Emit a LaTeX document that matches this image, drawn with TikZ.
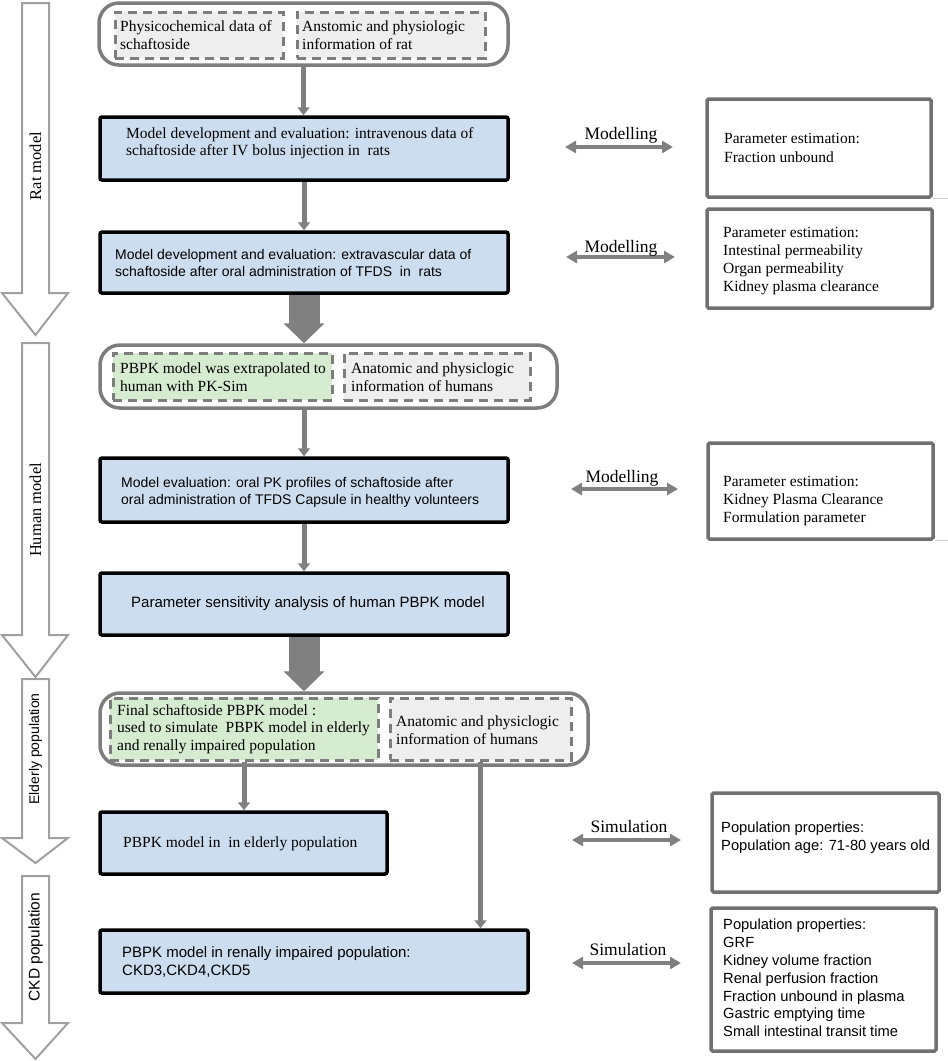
\documentclass[tikz,border=0pt]{standalone}
\usepackage{fontspec}
\setmainfont{Liberation Serif}
\setsansfont{Liberation Sans}
\usetikzlibrary{arrows.meta}
\definecolor{boxblue}{RGB}{205,221,240}
\definecolor{boxgreen}{RGB}{214,236,208}
\definecolor{boxgray}{RGB}{238,238,238}
\definecolor{conngray}{RGB}{128,128,128}
\definecolor{grpgray}{RGB}{125,125,125}
\definecolor{pargray}{RGB}{112,112,112}
\definecolor{hgray}{RGB}{160,160,160}
\definecolor{faint}{RGB}{205,205,205}
\newcommand\mkbox[6]{\node[#2, minimum width={(#4-#3)*1pt}, minimum height={(#6-#5)*1pt}] (#1) at ({(#3+#4)/2},{(#5+#6)/2}) {};}
\begin{document}
\begin{tikzpicture}[x=1pt,y=-1pt,
  bluebox/.style={draw=black, line width=3.5pt, fill=boxblue, rounded corners=2pt, inner sep=0pt},
  grpbox/.style={draw=grpgray, line width=3.5pt, rounded corners=20pt, fill=white, inner sep=0pt},
  dashbox/.style={draw=grpgray, line width=3pt, dash pattern=on 9pt off 6pt, inner sep=0pt},
  graydash/.style={dashbox, fill=boxgray},
  greendash/.style={dashbox, fill=boxgreen},
  parbox/.style={draw=pargray, line width=3.5pt, rounded corners=1.5pt, fill=white, inner sep=0pt},
  txs/.style={font=\fontsize{15.5}{17.5}\selectfont, align=left, inner sep=0pt, anchor=west},
  txp/.style={font=\fontsize{15.5}{18.2}\selectfont, align=left, inner sep=0pt, anchor=west},
  txa/.style={font=\sffamily\fontsize{15}{17.5}\selectfont, align=left, inner sep=0pt, anchor=west},
  txb/.style={font=\sffamily\fontsize{14}{17}\selectfont, align=left, inner sep=0pt, anchor=west},
  txq/.style={font=\sffamily\fontsize{14.7}{17.8}\selectfont, align=left, inner sep=0pt, anchor=west},
  lbl/.style={font=\fontsize{17.5}{20}\selectfont, inner sep=0pt, anchor=base},
  conn/.style={draw=conngray, line width=5pt, -{Triangle[width=12pt,length=8pt]}},
  fat/.style={draw=conngray, line width=31pt, -{Triangle[width=40pt,length=20pt]}},
  dbl/.style={draw=conngray, line width=3.5pt, {Triangle[width=12pt,length=11pt]}-{Triangle[width=12pt,length=11pt]}},
  hollow/.style={draw=hgray, line width=2pt, fill=white, line join=miter}
]
\useasboundingbox (0,0) rectangle (948,1061);

% left phase arrows
\draw[hollow] (22,3) -- (49,3) -- (49,293) -- (68,293) -- (35.5,335) -- (2,293) -- (22,293) -- cycle;
\draw[hollow] (22,343) -- (49,343) -- (49,635) -- (68,635) -- (35.5,677) -- (2,635) -- (22,635) -- cycle;
\draw[hollow] (22,679) -- (49,679) -- (49,838) -- (68,838) -- (35.5,863) -- (2,838) -- (22,838) -- cycle;
\draw[hollow] (22,876) -- (49,876) -- (49,1023) -- (68,1023) -- (35.5,1059) -- (2,1023) -- (22,1023) -- cycle;
\node[rotate=90, inner sep=0pt, font=\fontsize{16.5}{18}\selectfont] (lrat) at (35.5,166) {Rat model};
\node[rotate=90, inner sep=0pt, font=\fontsize{16.5}{18}\selectfont] (lhum) at (35.5,510) {Human model};
\node[rotate=90, inner sep=0pt, font=\sffamily\fontsize{14}{16}\selectfont] (lold) at (35.5,749) {Elderly population};
\node[rotate=90, inner sep=0pt, font=\sffamily\fontsize{15.5}{17}\selectfont] (lckd) at (35.5,947) {CKD population};

% group 1
\mkbox{g1}{grpbox}{99}{508}{3}{65}
\mkbox{g1a}{graydash}{115}{283}{12}{58}
\mkbox{g1b}{graydash}{297}{485}{12}{58}
\node[txs] (g1at) at (120,35) {Physicochemical data of\\schaftoside};
\node[txs] (g1bt) at (302,35) {Anstomic and physiologic\\information of rat};

% rat boxes
\mkbox{b1}{bluebox}{100}{508}{117}{180}
\node[txs] (b1t) at (126,143) {Model development and evaluation: intravenous data of\\schaftoside after IV bolus injection in\ \ rats};
\mkbox{b2}{bluebox}{100}{508}{232}{293}
\node[txb] (b2t) at (115,262.5) {Model development and evaluation: extravascular data of\\schaftoside after oral administration of TFDS\ \ in\ \ rats};

% group 2
\mkbox{g2}{grpbox}{100}{557}{345}{408}
\mkbox{g2a}{greendash}{113}{332}{353}{400}
\mkbox{g2b}{graydash}{344}{530}{353}{400}
\node[txs] (g2at) at (120,377) {PBPK model was extrapolated to\\human with PK-Sim};
\node[txs] (g2bt) at (351,377) {Anatomic and physiclogic\\information of humans};

% human boxes
\mkbox{b3}{bluebox}{100}{508}{458}{522}
\node[txb] (b3t) at (121,492) {Model evaluation: oral PK profiles of schaftoside after\\oral administration of TFDS Capsule in healthy volunteers};
\mkbox{b4}{bluebox}{100}{508}{573}{635}
\node[txa] (b4t) at (131,604) {Parameter sensitivity analysis of human PBPK model};

% group 3
\mkbox{g3}{grpbox}{100}{588}{693}{765}
\mkbox{g3a}{greendash}{110}{378}{698}{760}
\mkbox{g3b}{graydash}{390}{571}{698}{760}
\node[txs] (g3at) at (117,729) {Final schaftoside PBPK model :\\used to simulate\ \ PBPK model in elderly\\and renally impaired population};
\node[txs] (g3bt) at (396,730) {Anatomic and physiclogic\\information of humans};

% population boxes
\mkbox{b5}{bluebox}{100}{387}{812}{874}
\node[txs] (b5t) at (123,844) {PBPK model in\ \ in elderly population};
\mkbox{b6}{bluebox}{100}{528}{930}{993}
\node[txa] (b6t) at (122,962) {PBPK model in renally impaired population:\\CKD3,CKD4,CKD5};

% right boxes
\mkbox{p1}{parbox}{707}{931}{99}{197}
\node[txp] (p1t) at (724,148) {Parameter estimation:\\Fraction unbound};
\mkbox{p2}{parbox}{707}{932}{209}{308}
\node[txp] (p2t) at (723,261) {Parameter estimation:\\Intestinal permeability\\Organ permeability\\Kidney plasma clearance};
\mkbox{p3}{parbox}{708}{933}{443}{539}
\node[txp] (p3t) at (723,501) {Parameter estimation:\\Kidney Plasma Clearance\\Formulation parameter};
\mkbox{s1}{parbox}{712}{939}{793}{892}
\node[txq] (s1t) at (721,838) {Population properties:\\Population age: 71-80 years old};
\mkbox{s2}{parbox}{711}{936}{908}{1051}
\node[txq] (s2t) at (723,978) {Population properties:\\GRF\\Kidney volume fraction\\Renal perfusion fraction\\Fraction unbound in plasma\\Gastric emptying time\\Small intestinal transit time};

\draw[faint, line width=1pt] (933,198) -- (948,198);
\draw[faint, line width=1pt] (935,540) -- (948,540);

% vertical connectors
\draw[conn] (g1.south) -- (g1.south |- b1.north);
\draw[conn] (b1.south) -- (b2.north);
\draw[fat] (b2.south) -- (b2.south |- g2.north);
\draw[conn] (b3.north |- g2.south) -- (b3.north);
\draw[conn] (b3.south) -- (b4.north);
\draw[fat] (b4.south) -- (b4.south |- g3.north);
\draw[conn] (g3a.south) -- (g3a.south |- b5.north);
\draw[conn] (g3b.south) -- (g3b.south |- b6.north);

% double arrows
\coordinate (m1l) at (565,147); \coordinate (m1r) at (673,147);
\coordinate (m2l) at (566,257); \coordinate (m2r) at (675,257);
\coordinate (m3l) at (571,489); \coordinate (m3r) at (678,489);
\coordinate (s1l) at (572,840); \coordinate (s1r) at (681,840);
\coordinate (s2l) at (572,963); \coordinate (s2r) at (681,963);
\draw[dbl] (m1l) -- (m1r);
\draw[dbl] (m2l) -- (m2r);
\draw[dbl] (m3l) -- (m3r);
\draw[dbl] (s1l) -- (s1r);
\draw[dbl] (s2l) -- (s2r);
\node[lbl] (m1lab) at (621,139) {Modelling};
\node[lbl] (m2lab) at (621,252) {Modelling};
\node[lbl] (m3lab) at (622,482) {Modelling};
\node[lbl] (s1lab) at (629,832) {Simulation};
\node[lbl] (s2lab) at (628,955) {Simulation};
\end{tikzpicture}
\end{document}
